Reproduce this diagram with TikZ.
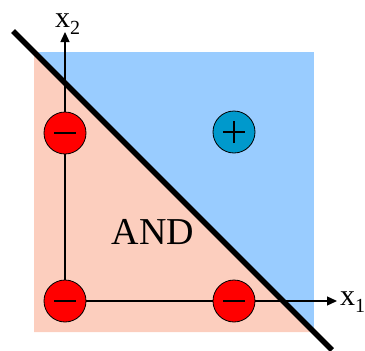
\documentclass[tikz,border=0pt]{standalone}
\usepackage{fontspec}
\setmainfont{Liberation Serif}
\usetikzlibrary{arrows.meta}

\definecolor{regionpink}{RGB}{252,206,190}
\definecolor{regionblue}{RGB}{153,204,255}
\definecolor{plusblue}{RGB}{0,153,204}

\begin{document}
\begin{tikzpicture}[
    x=1pt, y=-1pt,
    every node/.style={font=\fontsize{30}{32}\selectfont},
    sample/.style={circle, draw, line width=0.8pt, minimum size=42pt, inner sep=0pt},
    negsample/.style={sample, fill=red, path picture={\draw[line width=1.6pt] ([xshift=-11pt]path picture bounding box.center) -- ([xshift=11pt]path picture bounding box.center);}},
    possample/.style={sample, fill=plusblue, path picture={\draw[line width=1.4pt] ([xshift=-11pt]path picture bounding box.center) -- ([xshift=11pt]path picture bounding box.center); \draw[line width=1.4pt] ([yshift=-11pt]path picture bounding box.center) -- ([yshift=11pt]path picture bounding box.center);}},
    axis/.style={-{Triangle[length=10pt,width=9pt]}, line width=1.3pt},
    boundary/.style={line width=5.5pt}
]
\useasboundingbox (0,0) rectangle (365,351);
% class regions
\fill[regionblue] (34,52) rectangle (314,332);
\fill[regionpink] (34,52) -- (34,332) -- (314,332) -- cycle;
% axes
\coordinate (origin) at (65,301);
\coordinate (x2tip) at (65,32);
\coordinate (x1tip) at (337,301);
\draw[axis] (origin) -- (x2tip);
\draw[axis] (origin) -- (x1tip);
% decision line
\coordinate (lineA) at (13,31);
\coordinate (lineB) at (332,350);
\draw[boundary] (lineA) -- (lineB);
% samples
\node[negsample] (n00) at (origin) {};
\node[negsample] (n01) at (65,133) {};
\node[negsample] (n10) at (234,301) {};
\node[possample] (p11) at (234,132) {};
% labels
\node[font=\fontsize{38}{40}\selectfont] (andlabel) at (153,232) {AND};
\node[anchor=base west, inner sep=0pt] (x2label) at (55,27) {x\raisebox{-7pt}{\fontsize{20}{22}\selectfont 2}};
\node[anchor=base west, inner sep=0pt] (x1label) at (340,305) {x\raisebox{-7pt}{\fontsize{20}{22}\selectfont 1}};
\end{tikzpicture}
\end{document}
